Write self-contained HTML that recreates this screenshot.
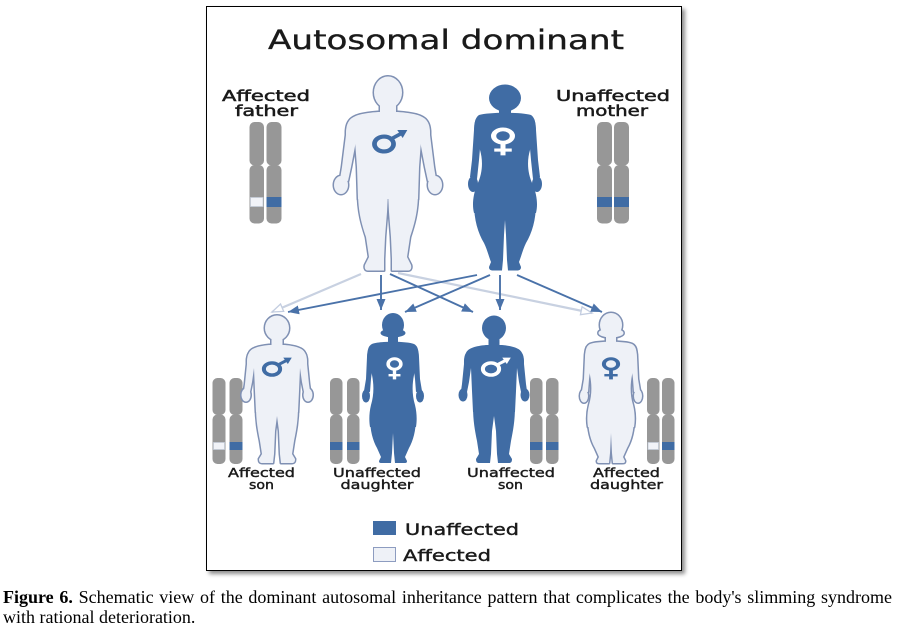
<!DOCTYPE html>
<html>
<head>
<meta charset="utf-8">
<style>
  html,body{margin:0;padding:0;background:#fff;}
  body{width:899px;height:630px;position:relative;overflow:hidden;}
  .frame{position:absolute;left:206px;top:6px;width:476px;height:565px;box-sizing:border-box;border:1.5px solid #000;background:#fff;box-shadow:3px 3px 4px rgba(0,0,0,0.45);}
  svg{position:absolute;left:0;top:0;}
  .cap{position:absolute;left:3px;font-family:"Liberation Serif",serif;font-size:18px;line-height:20px;color:#000;white-space:nowrap;}
</style>
</head>
<body>
<div class="frame"></div>
<svg width="899" height="630" viewBox="0 0 899 630" xmlns="http://www.w3.org/2000/svg">
  <defs>
    <g id="male">
      <ellipse cx="0" cy="15.5" rx="14" ry="16"/>
      <rect x="-8" y="25" width="16" height="14"/>
      <path d="M -10,35 L 10,35 C 24,36 35,38 39,44 C 42,48 42,54 42,58 L 33,64 L 31,90 L 30,122 L -30,122 L -31,90 L -33,64 L -42,58 C -42,54 -42,48 -39,44 C -35,38 -24,36 -10,35 Z"/>
      <path d="M 34,42 C 40,44 42,50 42,58 L 46,90 L 48,102 L 40,104 L 37,90 L 32,64 Z"/>
      <path d="M -34,42 C -40,44 -42,50 -42,58 L -46,90 L -48,102 L -40,104 L -37,90 L -32,64 Z"/>
      <ellipse cx="47" cy="108" rx="7" ry="9"/>
      <ellipse cx="-47" cy="108" rx="7" ry="9"/>
      <path d="M 0,115 L 30,115 C 30,135 26,148 22,160 L 19,180 L 23,188 C 24,192 22,193.5 20,193.5 L 4,193.5 L 4,182 L 3,160 L 1,135 Z"/>
      <path d="M 0,115 L -30,115 C -30,135 -26,148 -22,160 L -19,180 L -23,188 C -24,192 -22,193.5 -20,193.5 L -4,193.5 L -4,182 L -3,160 L -1,135 Z"/>
    </g>
    <g id="female">
      <ellipse cx="0" cy="13" rx="16" ry="13.5"/>
      <rect x="-6" y="20" width="12" height="12"/>
      <path d="M -26,30 C -16,27 16,27 26,30 C 30,33 31,38 30,45 L 25,65 C 22,75 22,88 28,100 C 32,110 33,120 31,128 L -31,128 C -33,120 -32,110 -28,100 C -22,88 -22,75 -25,65 L -30,45 C -31,38 -30,33 -26,30 Z"/>
      <path d="M 24,30 C 29,31 31,37 31,45 L 33,75 L 35,92 L 28,94 L 26,75 L 24,52 Z"/>
      <path d="M -24,30 C -29,31 -31,37 -31,45 L -33,75 L -35,92 L -28,94 L -26,75 L -24,52 Z"/>
      <ellipse cx="32" cy="99" rx="5" ry="8"/>
      <ellipse cx="-32" cy="99" rx="5" ry="8"/>
      <path d="M 0,118 L 31,118 C 31,135 27,148 21,158 C 18,164 16,172 14,177 L 16,182 C 16,185 14,185.5 12,185.5 L 3,185.5 L 2,175 L 1,150 L 0,135 Z"/>
      <path d="M 0,118 L -31,118 C -31,135 -27,148 -21,158 C -18,164 -16,172 -14,177 L -16,182 C -16,185 -14,185.5 -12,185.5 L -3,185.5 L -2,175 L -1,150 L 0,135 Z"/>
    </g>
    <g id="cmale">
      <ellipse cx="0" cy="12" rx="12" ry="12.5"/>
      <rect x="-5.5" y="20" width="11" height="12"/>
      <path d="M -8,29 L 8,29 C 18,30 26,32 28,37 C 30,40 30,44 30,48 L 23,52 L 22,75 L 21,96 L -21,96 L -22,75 L -23,52 L -30,48 C -30,44 -30,40 -28,37 C -26,32 -18,30 -8,29 Z"/>
      <path d="M 24,33 C 28,35 30,40 30,48 L 32,68 L 33,75 L 27,76 L 25,66 L 23,52 Z"/>
      <path d="M -24,33 C -28,35 -30,40 -30,48 L -32,68 L -33,75 L -27,76 L -25,66 L -23,52 Z"/>
      <ellipse cx="31" cy="79" rx="4.5" ry="6.5"/>
      <ellipse cx="-31" cy="79" rx="4.5" ry="6.5"/>
      <path d="M 0,90 L 21,90 C 21,105 19,115 17,125 L 15,138 L 18,143 C 18,146 17,147 15,147 L 4,147 L 3,138 L 2,115 L 0,100 Z"/>
      <path d="M 0,90 L -21,90 C -21,105 -19,115 -17,125 L -15,138 L -18,143 C -18,146 -17,147 -15,147 L -4,147 L -3,138 L -2,115 L 0,100 Z"/>
    </g>
    <g id="cfemale">
      <ellipse cx="0" cy="12" rx="11" ry="12"/>
      <ellipse cx="0" cy="20" rx="12.5" ry="4.5"/>
      <rect x="-5" y="20" width="10" height="12"/>
      <path d="M -21,31 C -14,28 14,28 21,31 C 25,33 26,38 25,44 L 21,62 C 19,72 19,82 22,92 C 24,100 24,108 23,114 L -23,114 C -24,108 -24,100 -22,92 C -19,82 -19,72 -21,62 L -25,44 C -26,38 -25,33 -21,31 Z"/>
      <path d="M 19,31 C 24,32 26,38 26,44 L 27,66 L 29,78 L 23,79 L 22,66 L 20,50 Z"/>
      <path d="M -19,31 C -24,32 -26,38 -26,44 L -27,66 L -29,78 L -23,79 L -22,66 L -20,50 Z"/>
      <ellipse cx="27" cy="83" rx="4" ry="6.5"/>
      <ellipse cx="-27" cy="83" rx="4" ry="6.5"/>
      <path d="M 0,104 L 23,104 C 23,118 20,128 16,135 L 12,144 L 14,148 C 14,150 13,150 11,150 L 2,150 L 1,140 L 0,120 Z"/>
      <path d="M 0,104 L -23,104 C -23,118 -20,128 -16,135 L -12,144 L -14,148 C -14,150 -13,150 -11,150 L -2,150 L -1,140 L 0,120 Z"/>
    </g>
    <g id="mars">
      <ellipse cx="0" cy="0" rx="9" ry="8" fill="none" stroke-width="4.5"/>
      <line x1="6" y1="-5" x2="16" y2="-11.2" stroke-width="3.8"/>
      <polygon points="22,-15 12.5,-15 17.6,-6.5" stroke="none"/>
    </g>
    <g id="venus">
      <circle cx="0" cy="0" r="7.5" fill="none" stroke-width="4.2"/>
      <line x1="0" y1="9" x2="0" y2="22" stroke-width="4"/>
      <line x1="-7" y1="16" x2="7" y2="16" stroke-width="3.5"/>
    </g>
    <marker id="bh" markerUnits="userSpaceOnUse" markerWidth="12" markerHeight="10" refX="11" refY="4.5" orient="auto">
      <path d="M0,0 L11,4.5 L0,9 Z" fill="#4a72a9"/>
    </marker>
    <marker id="lh" markerUnits="userSpaceOnUse" markerWidth="14" markerHeight="11" refX="12" refY="5" orient="auto">
      <path d="M1,1 L12,5 L1,9 Z" fill="#fff" stroke="#c3cde0" stroke-width="1.3"/>
    </marker>
  </defs>

  <!-- Title -->
  <text x="268" y="49" font-family="DejaVu Sans, Liberation Sans, sans-serif" font-size="26.5" fill="#1a1a1a" stroke="#1a1a1a" stroke-width="0.35" textLength="356" lengthAdjust="spacingAndGlyphs">Autosomal dominant</text>

  <!-- Top labels -->
  <g font-family="DejaVu Sans, Liberation Sans, sans-serif" font-size="15" fill="#1a1a1a" stroke="#1a1a1a" stroke-width="0.5">
    <text x="222" y="101" textLength="88" lengthAdjust="spacingAndGlyphs">Affected</text>
    <text x="235" y="116" textLength="63" lengthAdjust="spacingAndGlyphs">father</text>
    <text x="556" y="101" textLength="114" lengthAdjust="spacingAndGlyphs">Unaffected</text>
    <text x="576" y="116" textLength="72" lengthAdjust="spacingAndGlyphs">mother</text>
  </g>

  <!-- Parent chromosomes -->
  <g fill="#979797">
    <rect x="249.5" y="122" width="14.5" height="43.5" rx="5"/>
    <rect x="249.5" y="165" width="14.5" height="58.5" rx="5"/>
    <rect x="266.5" y="122" width="15" height="43.5" rx="5"/>
    <rect x="266.5" y="165" width="15" height="58.5" rx="5"/>
    <rect x="597" y="122" width="15" height="43.5" rx="5"/>
    <rect x="597" y="165" width="15" height="58.5" rx="5"/>
    <rect x="614" y="122" width="15" height="43.5" rx="5"/>
    <rect x="614" y="165" width="15" height="58.5" rx="5"/>
  </g>
  <rect x="250.5" y="197.5" width="12.5" height="9" fill="#f1f3f8" stroke="#c4cbd8" stroke-width="0.8"/>
  <rect x="266.5" y="197" width="15" height="10" fill="#406ca4"/>
  <rect x="597" y="197" width="15" height="10" fill="#406ca4"/>
  <rect x="614" y="197" width="15" height="10" fill="#406ca4"/>

  <!-- Father (affected, light) -->
  <g transform="translate(388,77)">
    <use href="#male" fill="#eef1f7" stroke="#7f90b3" stroke-width="3" stroke-linejoin="round"/>
    <use href="#male" fill="#eef1f7"/>
  </g>
  <use href="#mars" transform="translate(384,144) scale(1.06,0.93)" stroke="#406ca4" fill="#406ca4"/>

  <!-- Mother (unaffected, blue) -->
  <use href="#female" transform="translate(505,85)" fill="#406ca4"/>
  <use href="#venus" transform="translate(503,136) scale(1.25,0.88)" stroke="#fff" fill="#fff"/>

  <!-- Arrows -->
  <g stroke="#c8d1e1" stroke-width="2.2" fill="none">
    <line x1="361" y1="274" x2="272" y2="312" marker-end="url(#lh)"/>
    <line x1="398" y1="273" x2="592" y2="313" marker-end="url(#lh)"/>
  </g>
  <g stroke="#4a72a9" stroke-width="1.9" fill="none">
    <line x1="381" y1="275" x2="381" y2="310" marker-end="url(#bh)"/>
    <line x1="390" y1="274" x2="473" y2="312" marker-end="url(#bh)"/>
    <line x1="477" y1="275" x2="288" y2="312" marker-end="url(#bh)"/>
    <line x1="490" y1="275" x2="405" y2="312" marker-end="url(#bh)"/>
    <line x1="500" y1="275" x2="500" y2="310" marker-end="url(#bh)"/>
    <line x1="517" y1="275" x2="602" y2="312" marker-end="url(#bh)"/>
  </g>

  <!-- Children chromosomes -->
  <g fill="#979797">
    <rect x="212.5" y="378" width="13" height="37" rx="5"/>
    <rect x="212.5" y="414.5" width="13" height="49.5" rx="5"/>
    <rect x="229.5" y="378" width="13" height="37" rx="5"/>
    <rect x="229.5" y="414.5" width="13" height="49.5" rx="5"/>

    <rect x="330" y="378" width="12.5" height="37" rx="5"/>
    <rect x="330" y="414.5" width="12.5" height="49.5" rx="5"/>
    <rect x="347" y="378" width="12.5" height="37" rx="5"/>
    <rect x="347" y="414.5" width="12.5" height="49.5" rx="5"/>

    <rect x="530" y="378" width="12.5" height="37" rx="5"/>
    <rect x="530" y="414.5" width="12.5" height="49.5" rx="5"/>
    <rect x="546" y="378" width="12.5" height="37" rx="5"/>
    <rect x="546" y="414.5" width="12.5" height="49.5" rx="5"/>

    <rect x="647" y="378" width="12.5" height="37" rx="5"/>
    <rect x="647" y="414.5" width="12.5" height="49.5" rx="5"/>
    <rect x="662" y="378" width="12.5" height="37" rx="5"/>
    <rect x="662" y="414.5" width="12.5" height="49.5" rx="5"/>
  </g>
  <rect x="213.5" y="442.5" width="11" height="7" fill="#f1f3f8" stroke="#c4cbd8" stroke-width="0.8"/>
  <rect x="229.5" y="442" width="13" height="8" fill="#406ca4"/>
  <rect x="330" y="442" width="12.5" height="8" fill="#406ca4"/>
  <rect x="347" y="442" width="12.5" height="8" fill="#406ca4"/>
  <rect x="530" y="442" width="12.5" height="8" fill="#406ca4"/>
  <rect x="546" y="442" width="12.5" height="8" fill="#406ca4"/>
  <rect x="648" y="442.5" width="10.5" height="7" fill="#f1f3f8" stroke="#c4cbd8" stroke-width="0.8"/>
  <rect x="662" y="442" width="12.5" height="8" fill="#406ca4"/>

  <!-- Affected son -->
  <g transform="translate(277,316)">
    <use href="#cmale" fill="#eef1f7" stroke="#7f90b3" stroke-width="3" stroke-linejoin="round"/>
    <use href="#cmale" fill="#eef1f7"/>
  </g>
  <use href="#mars" transform="translate(272,369) scale(0.9,0.76)" stroke="#406ca4" fill="#406ca4"/>

  <!-- Unaffected daughter -->
  <use href="#cfemale" transform="translate(393,313)" fill="#406ca4"/>
  <use href="#venus" transform="translate(394.5,364) scale(0.85,0.7)" stroke="#fff" fill="#fff"/>

  <!-- Unaffected son -->
  <use href="#cmale" transform="translate(494,316)" fill="#406ca4"/>
  <use href="#mars" transform="translate(491,369) scale(0.9,0.76)" stroke="#fff" fill="#fff"/>

  <!-- Affected daughter -->
  <g transform="translate(611,313)">
    <use href="#cfemale" fill="#eef1f7" stroke="#7f90b3" stroke-width="3" stroke-linejoin="round"/>
    <use href="#cfemale" fill="#eef1f7"/>
  </g>
  <use href="#venus" transform="translate(611,364) scale(0.95,0.7)" stroke="#406ca4" fill="#406ca4"/>

  <!-- Children labels -->
  <g font-family="DejaVu Sans, Liberation Sans, sans-serif" font-size="12.5" fill="#1a1a1a" stroke="#1a1a1a" stroke-width="0.4">
    <text x="228" y="477" textLength="67" lengthAdjust="spacingAndGlyphs">Affected</text>
    <text x="249" y="489" textLength="25" lengthAdjust="spacingAndGlyphs">son</text>
    <text x="333" y="477" textLength="88" lengthAdjust="spacingAndGlyphs">Unaffected</text>
    <text x="340.5" y="489" textLength="73" lengthAdjust="spacingAndGlyphs">daughter</text>
    <text x="467" y="477" textLength="88" lengthAdjust="spacingAndGlyphs">Unaffected</text>
    <text x="498" y="489" textLength="25" lengthAdjust="spacingAndGlyphs">son</text>
    <text x="593" y="477" textLength="67" lengthAdjust="spacingAndGlyphs">Affected</text>
    <text x="590" y="489" textLength="73" lengthAdjust="spacingAndGlyphs">daughter</text>
  </g>

  <!-- Legend -->
  <rect x="373" y="521" width="23" height="14" fill="#406ca4"/>
  <rect x="373.5" y="547.5" width="22" height="14" fill="#eef1f7" stroke="#8d9cc0" stroke-width="1"/>
  <g font-family="DejaVu Sans, Liberation Sans, sans-serif" font-size="16" fill="#1a1a1a" stroke="#1a1a1a" stroke-width="0.4">
    <text x="405" y="535" textLength="114" lengthAdjust="spacingAndGlyphs">Unaffected</text>
    <text x="403" y="561" textLength="88" lengthAdjust="spacingAndGlyphs">Affected</text>
  </g>
</svg>

<div class="cap" style="top:587px;width:889px;text-align:justify;text-align-last:justify;white-space:normal;"><b>Figure 6.</b> Schematic view of the dominant autosomal inheritance pattern that complicates the body's slimming syndrome</div>
<div class="cap" style="top:607px;">with rational deterioration.</div>
</body>
</html>
